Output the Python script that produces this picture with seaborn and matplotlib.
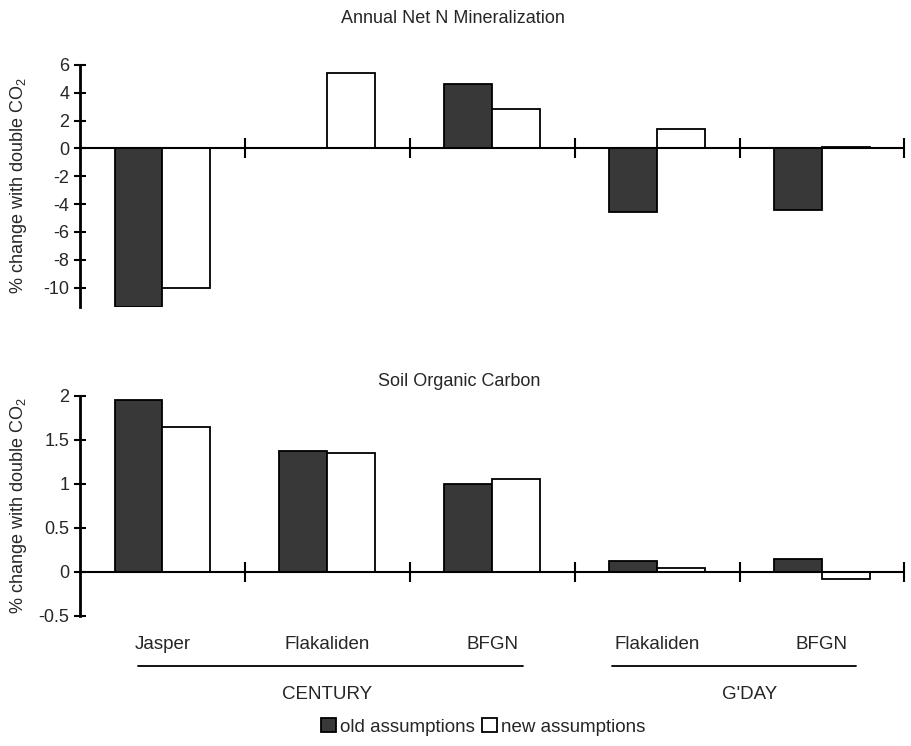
import matplotlib
matplotlib.use('Agg')
import pandas as pd
import matplotlib.pyplot as plt
import matplotlib.transforms as mtransforms
import seaborn as sns

# Werte
sites = ['Jasper', 'Flakaliden', 'BFGN', 'Flakaliden', 'BFGN']
models = ['CENTURY', 'CENTURY', 'CENTURY', "G'DAY", "G'DAY"]
n_old = [-11.4, 0.0, 4.6, -4.55, -4.4]
n_new = [-10.0, 5.45, 2.85, 1.37, 0.07]
c_old = [1.95, 1.37, 1.0, 0.125, 0.15]
c_new = [1.65, 1.35, 1.06, 0.045, -0.085]
groups = ['old assumptions', 'new assumptions']

n_ticks = [-10, -8, -6, -4, -2, 0, 2, 4, 6]
c_ticks = [-0.5, 0, 0.5, 1, 1.5, 2]
c_tick_labels = ['-0.5', '0', '0.5', '1', '1.5', '2']

keys = [m + ' ' + s for m, s in zip(models, sites)]
df = pd.DataFrame({
    'key': keys * 2,
    'assumptions': [groups[0]] * 5 + [groups[1]] * 5,
    'N': n_old + n_new,
    'C': c_old + c_new,
})

sns.set_style('white')
plt.rcParams['font.family'] = ['Liberation Sans', 'DejaVu Sans']
plt.rcParams['mathtext.default'] = 'regular'

pal = {groups[0]: '#383838', groups[1]: 'white'}

fig = plt.figure(figsize=(9.12, 7.46), dpi=100)
ax1 = fig.add_axes([0.0877, 0.5885, 0.904, 0.3244])
ax2 = fig.add_axes([0.0877, 0.1743, 0.904, 0.2949])

panels = [
    (ax1, 'N', (-11.4, 6), n_ticks, [str(t) for t in n_ticks]),
    (ax2, 'C', (-0.5, 2), c_ticks, c_tick_labels),
]

for ax, col, lim, ticks, tlabels in panels:
    sns.barplot(data=df, x='key', y=col, hue='assumptions', order=keys,
                hue_order=groups, palette=pal, width=0.58, edgecolor='black',
                linewidth=1.3, errorbar=None, ax=ax)
    ax.set_xlim(-0.5, 4.5)
    ax.set_ylim(lim)
    ax.set_yticks(ticks)
    ax.set_yticklabels(tlabels, fontsize=13)
    ax.set_xticks([0.5, 1.5, 2.5, 3.5, 4.5])
    ax.set_xticklabels([])
    ax.tick_params(axis='y', left=True, direction='inout', length=9, width=1.5, pad=3, color='black')
    ax.tick_params(axis='x', bottom=True, direction='inout', length=14, width=1.5, color='black')
    for s in ['top', 'right']:
        ax.spines[s].set_visible(False)
    ax.spines['left'].set_linewidth(2)
    ax.spines['bottom'].set_position(('data', 0))
    ax.spines['bottom'].set_linewidth(1.5)
    ax.spines['left'].set_color('black')
    ax.spines['bottom'].set_color('black')
    ax.set_xlabel('')
    ax.set_ylabel('% change with double CO$_2$', fontsize=13)
    ax.yaxis.set_label_coords(-0.062, 0.5)
    ax.get_legend().remove()

fig.text(0.497, 0.975, 'Annual Net N Mineralization', ha='center', va='center', fontsize=13)
fig.text(0.504, 0.488, 'Soil Organic Carbon', ha='center', va='center', fontsize=13)

# Beschriftungen unter der unteren Achse
tr = mtransforms.blended_transform_factory(ax2.transData, fig.transFigure)
for i, s in enumerate(sites):
    ax2.text(i, 0.1354, s, transform=tr, ha='center', va='center', fontsize=13.5)
ax2.plot([-0.148, 2.185], [0.1072, 0.1072], transform=tr, color='black', lw=1.3, clip_on=False)
ax2.plot([2.724, 4.209], [0.1072, 0.1072], transform=tr, color='black', lw=1.3, clip_on=False)
ax2.text(1.0, 0.0684, 'CENTURY', transform=tr, ha='center', va='center', fontsize=13.5)
ax2.text(3.56, 0.0684, "G'DAY", transform=tr, ha='center', va='center', fontsize=13.5)

handles, labels = ax1.get_legend_handles_labels()
fig.legend(handles, groups, loc='center', bbox_to_anchor=(0.53, 0.0255), ncol=2,
           frameon=False, fontsize=13.5, handlelength=0.8, handleheight=0.8,
           handletextpad=0.2, columnspacing=0.4)

fig.savefig('out.png', dpi=100)
